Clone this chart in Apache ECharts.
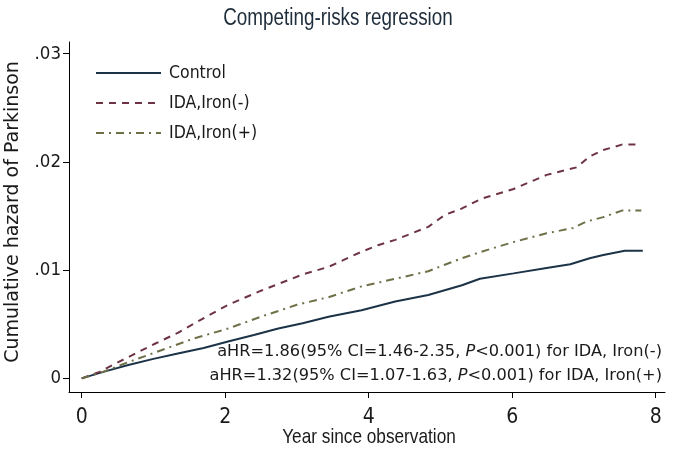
<!DOCTYPE html>
<html><head><meta charset="utf-8">
<script src="https://cdn.jsdelivr.net/npm/echarts@6/dist/echarts.min.js"></script>
<style>html,body{margin:0;padding:0;background:#fff}#c{width:675px;height:453px}</style>
</head><body><div id="c"></div>
<script>
var seriesNames = ['Control', 'IDA,Iron(-)', 'IDA,Iron(+)'];
var xTicks = [0, 2, 4, 6, 8];
var yTicks = [0, 0.01, 0.02, 0.03];
var yTickLabels = ['0', '.01', '.02', '.03'];
var controlYears = [0, 0.3, 0.65, 1.0, 1.34, 1.7, 2.04, 2.4, 2.74, 3.08, 3.44, 3.9, 4.37, 4.83, 5.3, 5.55, 6.02, 6.48, 6.81, 7.08, 7.27, 7.57, 7.82];
var controlVals = [0, 0.0006, 0.00123, 0.0018, 0.0023, 0.0028, 0.0034, 0.0040, 0.0046, 0.0051, 0.0057, 0.0063, 0.0071, 0.0077, 0.0086, 0.0092, 0.0097, 0.0102, 0.01055, 0.0111, 0.0114, 0.0118, 0.0118];
var ironNegYears = [0, 0.25, 0.51, 1.02, 1.34, 1.71, 2.04, 2.5, 3.08, 3.44, 3.9, 4.13, 4.37, 4.83, 5.06, 5.3, 5.57, 6.02, 6.48, 6.9, 7.08, 7.27, 7.53, 7.73];
var ironNegVals = [0, 0.0006, 0.0015, 0.0032, 0.0042, 0.0056, 0.0068, 0.0081, 0.0096, 0.0103, 0.0117, 0.0123, 0.0128, 0.0140, 0.0151, 0.0157, 0.0166, 0.0175, 0.0188, 0.0195, 0.0205, 0.0211, 0.0216, 0.0216];
var ironPosYears = [0, 0.3, 0.65, 1.11, 1.57, 2.04, 2.5, 3.0, 3.44, 3.9, 4.37, 4.83, 5.06, 5.3, 5.57, 6.02, 6.48, 6.85, 7.04, 7.27, 7.53, 7.80];
var ironPosVals = [0, 0.0006, 0.0015, 0.0026, 0.0037, 0.0046, 0.0057, 0.0068, 0.0075, 0.0085, 0.0092, 0.0099, 0.0105, 0.0111, 0.0117, 0.0126, 0.0134, 0.0139, 0.0145, 0.0149, 0.0155, 0.0155];
var titleText = 'Competing-risks regression';
var xAxisTitle = 'Year since observation';
var yAxisTitle = 'Cumulative hazard of Parkinson';
var annot1 = ['aHR=1.86(95% CI=1.46-2.35, ', 'P', '<0.001) for IDA, Iron(-)'];
var annot2 = ['aHR=1.32(95% CI=1.07-1.63, ', 'P', '<0.001) for IDA, Iron(+)'];

function pairs(xs, ys) { return xs.map(function (x, i) { return [x, ys[i]]; }); }
var cond = "'DejaVu Sans Condensed', sans-serif";
var chart = echarts.init(document.getElementById('c'), null, {renderer: 'canvas'});
function annot(parts) {
  return '{n|' + parts[0] + '}{i|' + parts[1] + '}{n|' + parts[2] + '}';
}
var rich = {
  n: {fontFamily: "'DejaVu Sans', sans-serif", fontSize: 16.2, fill: '#1a1a1a'},
  i: {fontFamily: "'DejaVu Sans', sans-serif", fontSize: 16.2, fontStyle: 'italic', fill: '#1a1a1a'}
};
chart.setOption({
  animation: false,
  backgroundColor: '#fff',
  grid: {left: 69, right: 10, top: 42, bottom: 61, outerBoundsMode: 'none', containLabel: false},
  legend: {orient: 'vertical', left: 95, top: 64, padding: 0, itemWidth: 65, itemHeight: 14, itemGap: 12,
    itemStyle: {opacity: 0},
    textStyle: {fontFamily: cond, fontSize: 17.5, color: '#1a1a1a', padding: [0, 0, 0, 3]},
    data: seriesNames},
  xAxis: {type: 'value', min: -0.177, max: 8.13,
    axisLine: {show: true, onZero: false, lineStyle: {color: '#000', width: 1}},
    axisTick: {show: true, customValues: xTicks, length: 6, inside: false, lineStyle: {color: '#000', width: 1}},
    axisLabel: {show: true, customValues: xTicks, fontFamily: cond, fontSize: 21, color: '#1a1a1a', margin: 15},
    splitLine: {show: false}},
  yAxis: {type: 'value', min: -0.00126, max: 0.03108,
    axisLine: {show: true, onZero: false, lineStyle: {color: '#000', width: 1}},
    axisTick: {show: true, customValues: yTicks, length: 6, inside: false, lineStyle: {color: '#000', width: 1}},
    axisLabel: {show: true, customValues: yTicks, fontFamily: cond, fontSize: 18.5, color: '#1a1a1a', margin: 8,
      formatter: function (v) { var i = yTicks.indexOf(v); return i >= 0 ? yTickLabels[i] : ''; }},
    splitLine: {show: false}},
  series: [
    {name: seriesNames[0], type: 'line', data: pairs(controlYears, controlVals), showSymbol: false, symbol: 'none',
      lineStyle: {color: '#1c3347', width: 2, type: 'solid'}, itemStyle: {color: '#1c3347'}, z: 3},
    {name: seriesNames[1], type: 'line', data: pairs(ironNegYears, ironNegVals), showSymbol: false, symbol: 'none',
      lineStyle: {color: '#6e3444', width: 2, type: [7, 6]}, itemStyle: {color: '#6e3444'}},
    {name: seriesNames[2], type: 'line', data: pairs(ironPosYears, ironPosVals), showSymbol: false, symbol: 'none',
      lineStyle: {color: '#6f7048', width: 2, type: [8, 5, 2, 5]}, itemStyle: {color: '#6f7048'}}
  ],
  graphic: [
    {type: 'text', x: 338, y: 19, scaleX: 0.82, style: {text: titleText, font: "23px 'Liberation Sans', sans-serif", fill: '#1e2d3b', align: 'center', verticalAlign: 'middle'}},
    {type: 'text', x: 369, y: 437, scaleX: 0.82, style: {text: xAxisTitle, font: "21px 'Liberation Sans', sans-serif", fill: '#1a1a1a', align: 'center', verticalAlign: 'middle'}},
    {type: 'text', x: 13, y: 212, rotation: Math.PI / 2, style: {text: yAxisTitle, font: "19px 'DejaVu Sans', sans-serif", fill: '#1a1a1a', align: 'center', verticalAlign: 'middle'}},
    {type: 'text', right: 13, top: 344, style: {text: annot(annot1), rich: rich, align: 'right'}},
    {type: 'text', right: 13, top: 368, style: {text: annot(annot2), rich: rich, align: 'right'}}
  ]
});
</script></body></html>
